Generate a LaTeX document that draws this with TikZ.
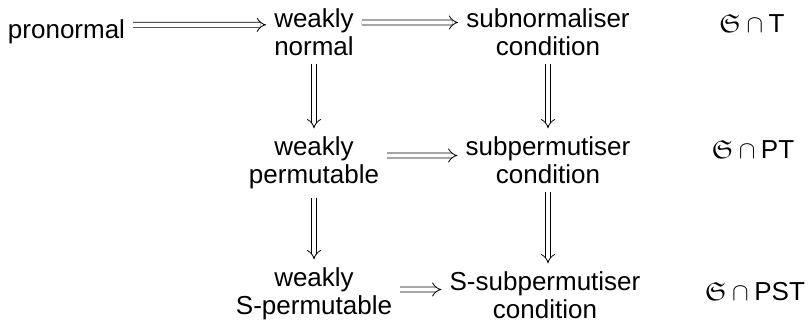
\documentclass[tikz,border=0pt]{standalone}
\usepackage{amssymb}
\usepackage{fontspec}
\setmainfont{Liberation Sans}
\usetikzlibrary{arrows.meta}
\begin{document}
\begin{tikzpicture}[x=1pt,y=-1pt,
  lbl/.style={font=\fontsize{26}{28.5}\selectfont, inner sep=0pt, align=center, anchor=north},
  cls/.style={font=\fontsize{26}{28.5}\selectfont, inner sep=0pt, anchor=base},
  imp/.style={double, double distance=4.2pt, line width=.8pt, -{Implies[scale=2.6]}, shorten <=8pt, shorten >=8pt}]
\useasboundingbox (0,0) rectangle (809,322);
\node[cls] (pron) at (66.5,38) {pronormal};
\node[lbl] (wn) at (314,8.4) {weakly\\normal};
\node[lbl] (sn) at (548,8.4) {subnormaliser\\condition};
\node[lbl] (wp) at (314,136.4) {weakly\\permutable};
\node[lbl] (sp) at (548,136.4) {subpermutiser\\condition};
\node[lbl] (wsp) at (314,267.4) {weakly\\S-permutable};
\node[lbl] (ssp) at (545,271.4) {S-subpermutiser\\condition};
\node[cls] (ct) at (752,32) {$\mathfrak{S}\cap\mbox{T}$};
\node[cls] (cpt) at (753,158) {$\mathfrak{S}\cap\mbox{PT}$};
\node[cls] (cpst) at (755,300) {$\mathfrak{S}\cap\mbox{PST}$};
% horizontal implications
\draw[imp] ([yshift=13.2pt]pron.base east) -- ([yshift=-16.41pt]wn.north west);
\draw[imp] ([yshift=-14.1pt]wn.north east) -- ([yshift=-14.11pt]sn.north west);
\draw[imp] ([yshift=-19.1pt]wp.north east) -- ([yshift=-19.11pt]sp.north west);
\draw[imp] ([yshift=-22.1pt]wsp.north east) -- ([yshift=-18.11pt]ssp.north west);
% vertical implications
\draw[imp] (wn) -- (wp);
\draw[imp] (sn) -- (sp);
\draw[imp] (wp) -- (wsp);
\draw[imp] (sp.south) -- (sp.south |- ssp.north);
\end{tikzpicture}
\end{document}
